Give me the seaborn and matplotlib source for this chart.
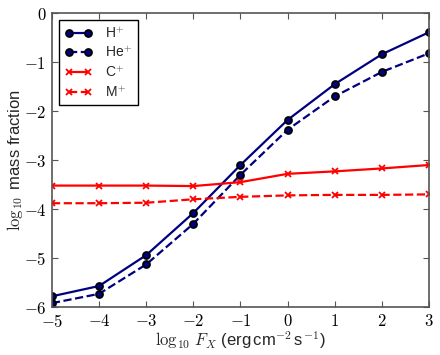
import numpy as np
import pandas as pd
import matplotlib
matplotlib.use("Agg")
import matplotlib.pyplot as plt
import matplotlib.ticker as mtick
import seaborn as sns

log_fx = [-5, -4, -3, -2, -1, 0, 1, 2, 3]
h_plus = [-5.78, -5.57, -4.94, -4.08, -3.10, -2.18, -1.45, -0.84, -0.39]
he_plus = [-5.92, -5.73, -5.13, -4.30, -3.30, -2.38, -1.70, -1.20, -0.82]
c_plus = [-3.52, -3.52, -3.52, -3.53, -3.45, -3.28, -3.23, -3.17, -3.10]
m_plus = [-3.88, -3.88, -3.87, -3.80, -3.75, -3.72, -3.71, -3.71, -3.70]

labels = ["H$^{+}$", "He$^{+}$", "C$^{+}$", "M$^{+}$"]
series = [h_plus, he_plus, c_plus, m_plus]

sns.set_style("ticks")
plt.rcParams["font.family"] = ["Liberation Sans", "DejaVu Sans"]
plt.rcParams["mathtext.fontset"] = "cm"

df = pd.concat(
    [pd.DataFrame({"x": log_fx, "y": s, "ion": lab}) for lab, s in zip(labels, series)],
    ignore_index=True,
)

fig = plt.figure(figsize=(4.4, 3.55), dpi=100)
ax = fig.add_axes([0.118, 0.135, 0.857, 0.828])

styles = {
    labels[0]: dict(color="#000080", ls="-", marker="o", mfc="#000080", mec="black"),
    labels[1]: dict(color="#000080", ls="--", marker="o", mfc="#000080", mec="black"),
    labels[2]: dict(color="red", ls="-", marker="x", mfc="red", mec="red"),
    labels[3]: dict(color="red", ls="--", marker="x", mfc="red", mec="red"),
}
for lab in labels:
    st = styles[lab]
    sns.lineplot(data=df[df["ion"] == lab], x="x", y="y", ax=ax, label=lab,
                 color=st["color"], linestyle=st["ls"], marker=st["marker"],
                 markersize=5, markerfacecolor=st["mfc"], markeredgecolor=st["mec"],
                 markeredgewidth=1.3, linewidth=1.6)

ax.set_xlim(-5, 3)
ax.set_ylim(-6, 0)
ax.xaxis.set_major_locator(mtick.MultipleLocator(1))
ax.yaxis.set_major_locator(mtick.MultipleLocator(1))
fmt = mtick.FuncFormatter(lambda v, p: "$%d$" % v)
ax.xaxis.set_major_formatter(fmt)
ax.yaxis.set_major_formatter(fmt)
ax.tick_params(direction="in", top=True, right=True, length=4, width=0.8,
               colors="#555555", labelcolor="black", labelsize=12, pad=4)
for sp in ax.spines.values():
    sp.set_color("#555555")
    sp.set_linewidth(1.2)

ax.set_xlabel(r"$\log_{10}\,F_X$ (erg$\,$cm$^{-2}\,$s$^{-1}$)", fontsize=12, labelpad=0)
ax.set_ylabel(r"$\log_{10}$ mass fraction", fontsize=12, labelpad=-1)

leg = ax.legend(loc="upper left", fontsize=10, frameon=True, fancybox=False,
                handlelength=2.0, borderpad=0.4, labelspacing=0.35, numpoints=2,
                handletextpad=0.9, borderaxespad=0.5)
leg.get_frame().set_edgecolor("black")
leg.get_frame().set_alpha(1)

fig.savefig("out.png", dpi=100)
